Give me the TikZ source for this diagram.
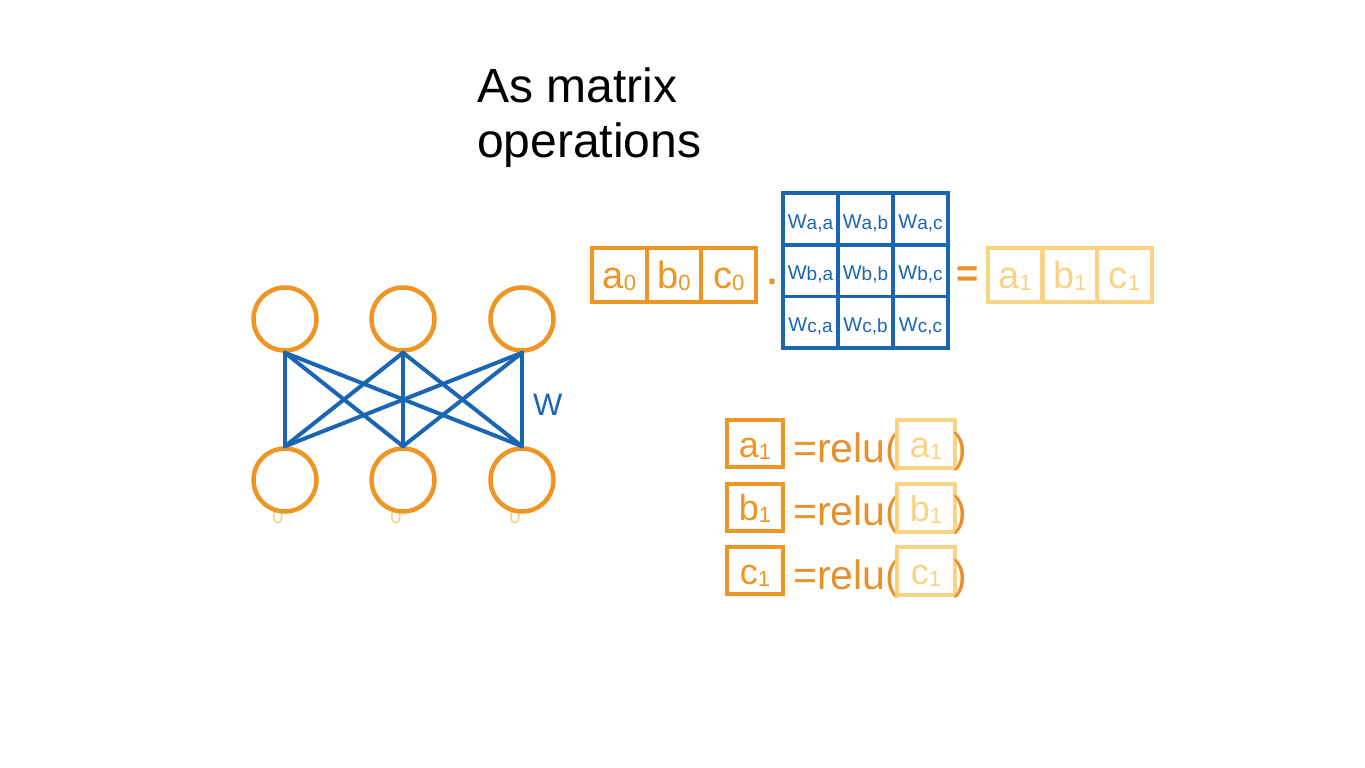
\documentclass[tikz,border=0pt]{standalone}
\usepackage{fontspec}
\setmainfont{Liberation Sans}
\definecolor{ora}{HTML}{EF9524}
\definecolor{dora}{HTML}{E8912B}
\definecolor{lora}{HTML}{F9D383}
\definecolor{blu}{HTML}{1B66B3}
\definecolor{zer}{HTML}{EFD38C}
\newcommand{\vs}[2]{#1\raisebox{-2pt}{\fontsize{22}{22}\selectfont #2}}
\newcommand{\ws}[1]{W\raisebox{-1pt}{\fontsize{19}{19}\selectfont #1}}
\begin{document}
\begin{tikzpicture}[x=1pt,y=-1pt,
  neuron/.style={circle,draw=ora,line width=4.5pt,fill=white,minimum size=63pt,inner sep=0pt},
  wline/.style={draw=blu,line width=4pt,line cap=round},
  vcell/.style={draw=ora,line width=3.8pt,minimum width=54.7pt,minimum height=54pt,inner sep=0pt,text=ora,
    font=\fontsize{38}{38}\selectfont,text height=26pt,text depth=0pt},
  rcell/.style={vcell,draw=lora,text=lora},
  mcell/.style={draw=blu,line width=3.8pt,minimum width=55pt,minimum height=51.7pt,inner sep=0pt,text=blu,
    font=\fontsize{20}{20}\selectfont,text height=18pt,text depth=0pt},
  dbox/.style={draw=ora,line width=4pt,minimum width=56pt,minimum height=47pt,inner sep=0pt,text=ora,
    font=\fontsize{36}{36}\selectfont,text height=27pt,text depth=0pt},
  lbox/.style={dbox,draw=lora,text=lora,minimum width=58pt,minimum height=48pt},
  reltxt/.style={anchor=base west,inner sep=0pt,text=dora,font=\fontsize{41}{41}\selectfont},
  zero/.style={anchor=base,inner sep=0pt,text=zer,font=\fontsize{20}{20}\selectfont},
  title/.style={anchor=base west,inner sep=0pt,font=\fontsize{48}{48}\selectfont}
]
\useasboundingbox[fill=white] (0,0) rectangle (1365,768);

% title
\node[title] (t1line) at (477,102) {As matrix};
\node[title] (t2line) at (477,157) {operations};

% hidden zeros under bottom neurons
\node[zero] (z1) at (278,523) {0};
\node[zero] (z2) at (396,523) {0};
\node[zero] (z3) at (515,523) {0};

% neurons
\node[neuron] (u1) at (285,319) {};
\node[neuron] (u2) at (403,319) {};
\node[neuron] (u3) at (522,319) {};
\node[neuron] (d1) at (285,480) {};
\node[neuron] (d2) at (403,480) {};
\node[neuron] (d3) at (522,480) {};

\foreach \i in {1,2,3}{
  \foreach \j in {1,2,3}{
    \draw[wline] (u\i.south) -- (d\j.north);
  }
}
\node[anchor=base west,inner sep=0pt,text=blu,font=\fontsize{31}{31}\selectfont] (wl) at (533,415) {W};

% input vector
\node[vcell] (a0) at (619.3,275) {\vs{a}{0}};
\node[vcell] (b0) at (674,275) {\vs{b}{0}};
\node[vcell] (c0) at (728.7,275) {\vs{c}{0}};
\node[anchor=base,inner sep=0pt,text=ora,font=\fontsize{36}{36}\bfseries\selectfont] (dot) at (772,284) {.};

% weight matrix
\node[mcell] (waa) at (810.5,219) {\ws{a,a}};
\node[mcell] (wab) at (865.5,219) {\ws{a,b}};
\node[mcell] (wac) at (920.5,219) {\ws{a,c}};
\node[mcell] (wba) at (810.5,270.7) {\ws{b,a}};
\node[mcell] (wbb) at (865.5,270.7) {\ws{b,b}};
\node[mcell] (wbc) at (920.5,270.7) {\ws{b,c}};
\node[mcell] (wca) at (810.5,322.4) {\ws{c,a}};
\node[mcell] (wcb) at (865.5,322.4) {\ws{c,b}};
\node[mcell] (wcc) at (920.5,322.4) {\ws{c,c}};

\node[anchor=center,inner sep=0pt,text=dora,font=\fontsize{38}{38}\bfseries\selectfont] (eq) at (968,277) {=};

% result vector
\node[rcell] (a1) at (1015,275) {\vs{a}{1}};
\node[rcell] (b1) at (1070,275) {\vs{b}{1}};
\node[rcell] (c1) at (1124.5,275) {\vs{c}{1}};

% relu rows
\node[dbox] (ra) at (755,443.5) {\vs{a}{1}};
\node[reltxt] (rla) at (793,462) {=relu(};
\node[lbox] (la) at (926,444) {\vs{a}{1}};
\node[reltxt] (rpa) at (953,462) {)};

\node[dbox] (rb) at (755,507) {\vs{b}{1}};
\node[reltxt] (rlb) at (793,525.5) {=relu(};
\node[lbox] (lb) at (926,507.5) {\vs{b}{1}};
\node[reltxt] (rpb) at (953,525.5) {)};

\node[dbox] (rc) at (755,570.5) {\vs{c}{1}};
\node[reltxt] (rlc) at (793,589) {=relu(};
\node[lbox] (lc) at (926,571) {\vs{c}{1}};
\node[reltxt] (rpc) at (953,589) {)};
\end{tikzpicture}
\end{document}
